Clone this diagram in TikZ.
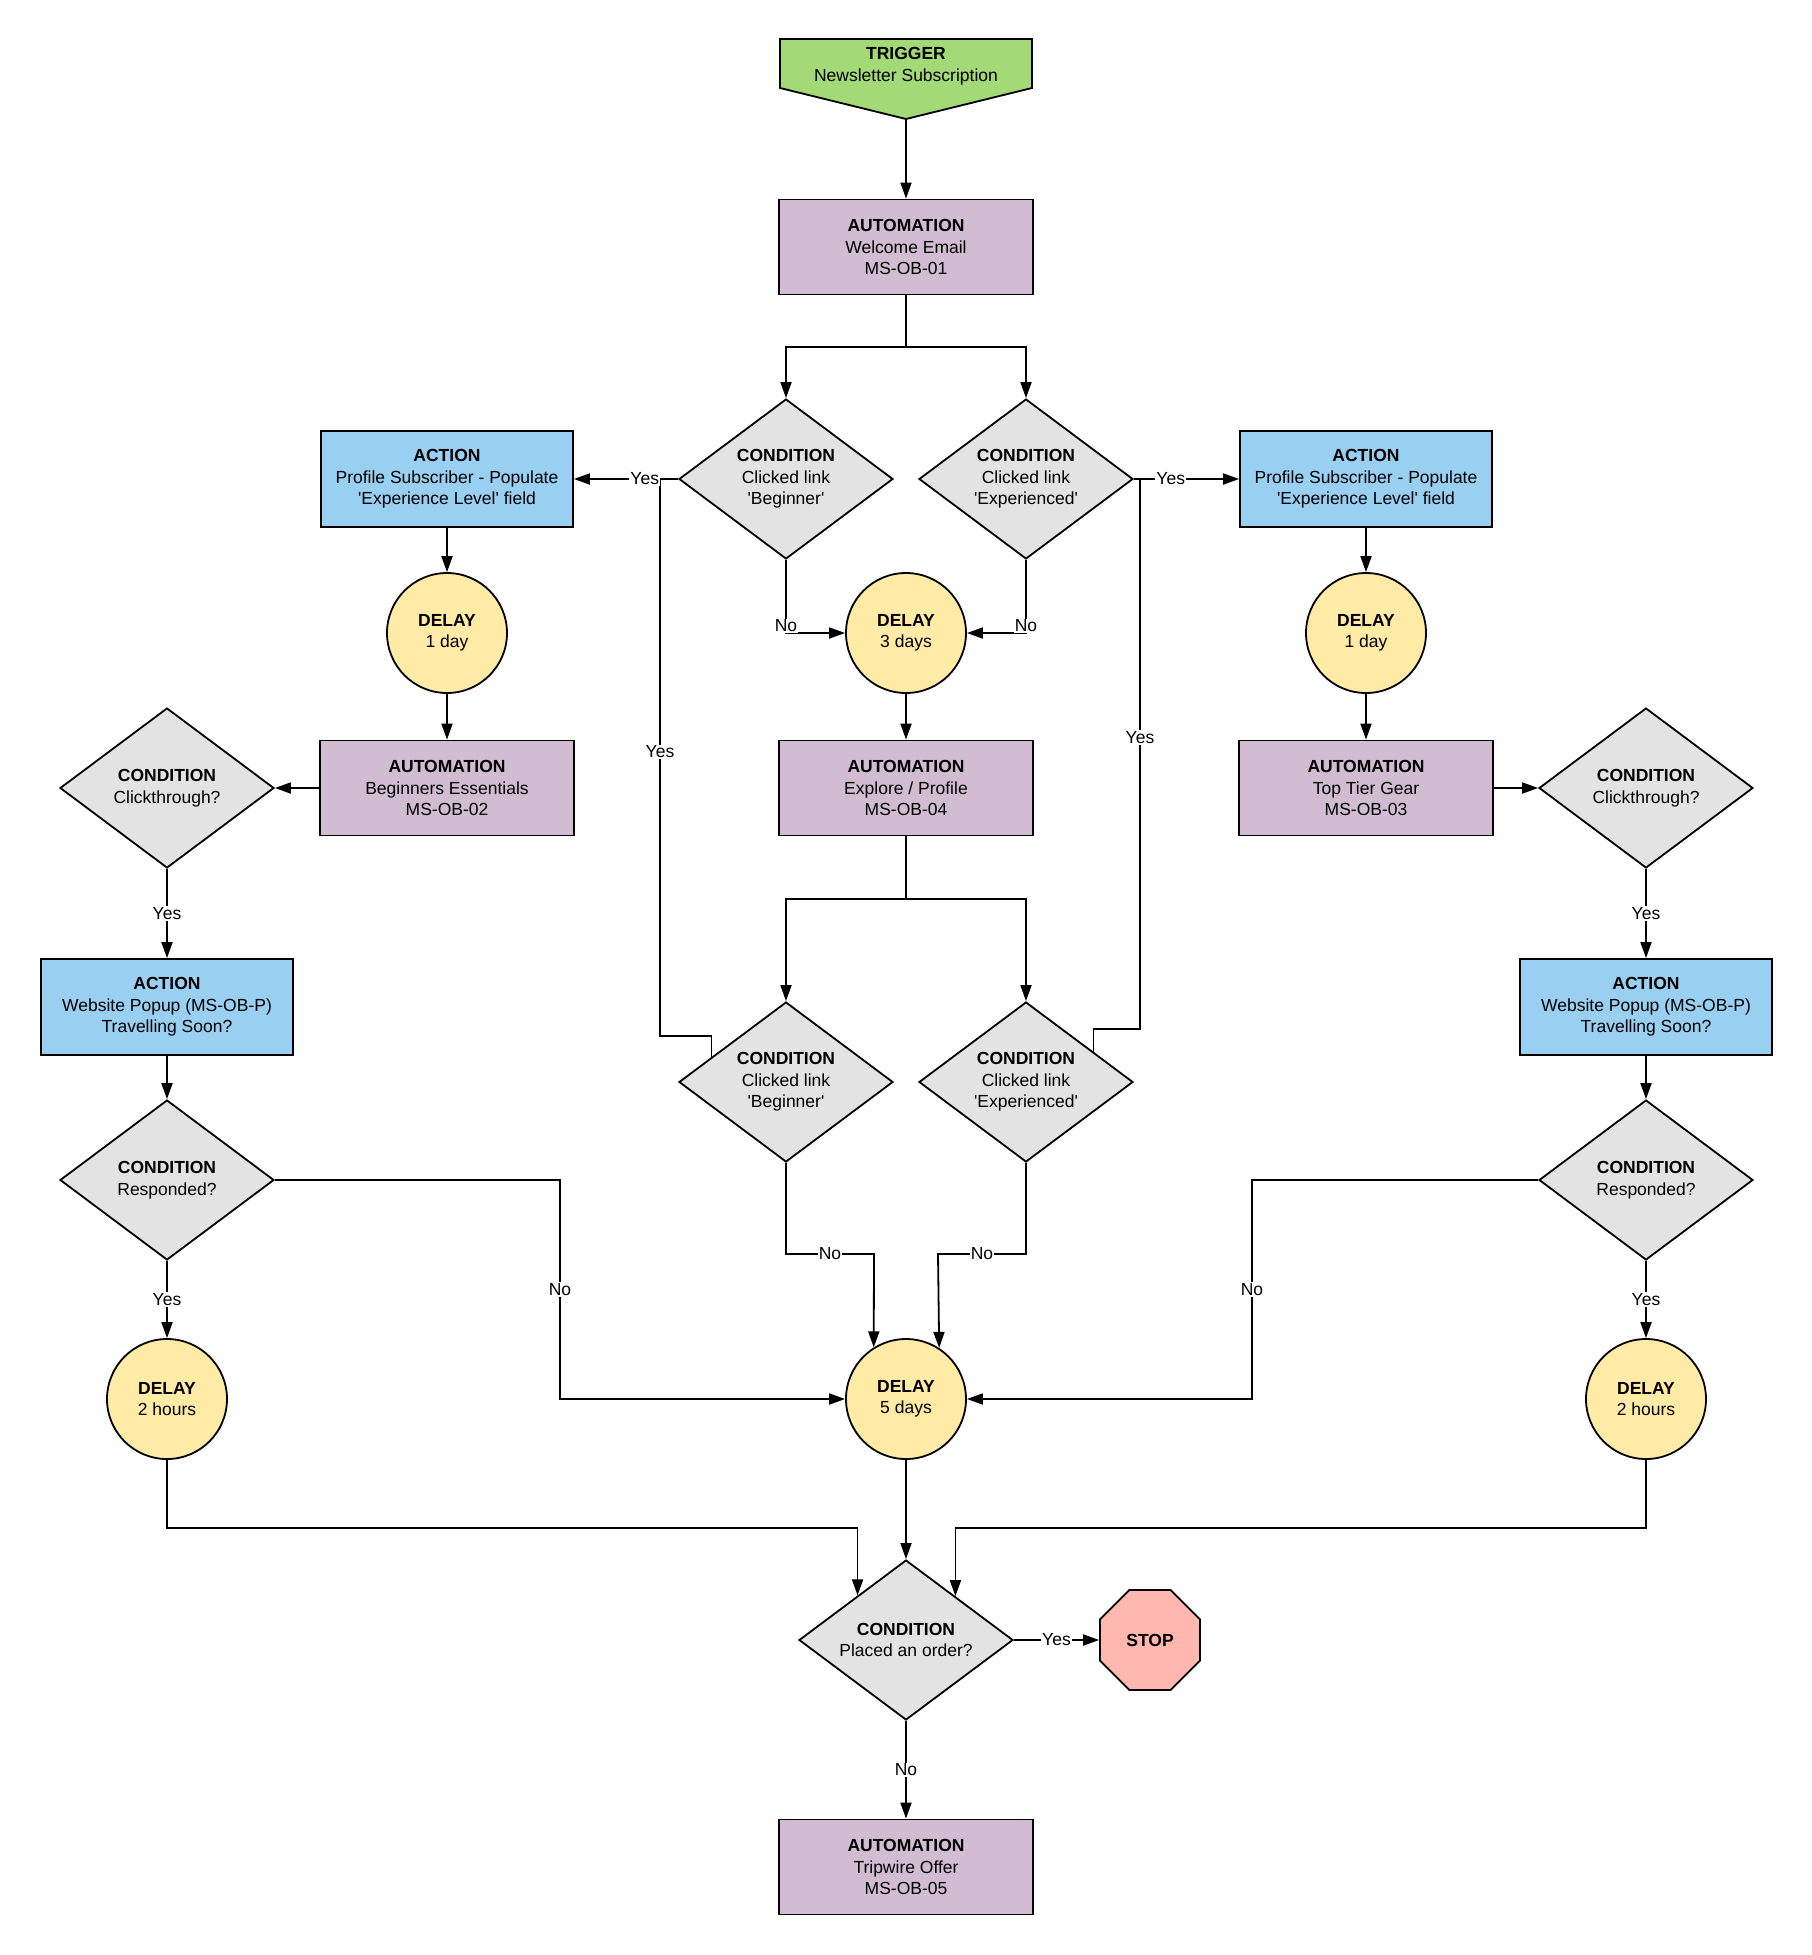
\documentclass[tikz,border=0pt]{standalone}
\usepackage{fontspec}
\setmainfont{Liberation Sans}
\usetikzlibrary{shapes.geometric, arrows.meta, calc}
\definecolor{trigc}{HTML}{A3D977}
\definecolor{autoc}{HTML}{D1BCD2}
\definecolor{actc}{HTML}{99D0F2}
\definecolor{condc}{HTML}{E3E3E3}
\definecolor{delayc}{HTML}{FFEBA6}
\definecolor{stopc}{HTML}{FFB7AE}
\newcommand{\sq}{\textquotesingle}
\begin{document}
\begin{tikzpicture}[x=1pt,y=-1pt,
  every node/.style={font=\fontsize{17.5}{21.5}\selectfont},
  base/.style={draw=black, line width=1.8pt, align=center, inner sep=0pt},
  autobox/.style={base, fill=autoc, minimum width=254pt, minimum height=95pt},
  actbox/.style={base, fill=actc, minimum width=252pt, minimum height=96pt},
  cond/.style={base, diamond, aspect=1.3375, fill=condc, minimum width=214pt, minimum height=160pt},
  delaynode/.style={base, circle, fill=delayc, minimum size=120pt},
  stopnode/.style={base, regular polygon, regular polygon sides=8, fill=stopc, minimum size=108.2pt},
  conn/.style={line width=1.8pt, -{Triangle[length=16pt,width=11pt]}},
  plain/.style={line width=1.8pt},
  lbl/.style={fill=white, inner sep=1pt}
]
\useasboundingbox (0,0) rectangle (1812,1955);

% trigger
\filldraw[fill=trigc, draw=black, line width=1.8pt, line join=miter]
  (780,39) -- (1032,39) -- (1032,88) -- (906,119) -- (780,88) -- cycle;
\node[align=center] (trigger) at (906,66) {\textbf{TRIGGER}\\Newsletter Subscription};
\coordinate (trigtip) at (906,119);

% nodes
\node[autobox] (welcome) at (906,247) {\textbf{AUTOMATION}\\Welcome Email\\MS-OB-01};
\node[cond] (cb1) at (786,479) {\textbf{CONDITION}\\Clicked link\\\sq Beginner\sq};
\node[cond] (ce1) at (1026,479) {\textbf{CONDITION}\\Clicked link\\\sq Experienced\sq};
\node[actbox] (actL) at (447,479) {\textbf{ACTION}\\Profile Subscriber - Populate\\\sq Experience Level\sq{} field};
\node[actbox] (actR) at (1366,479) {\textbf{ACTION}\\Profile Subscriber - Populate\\\sq Experience Level\sq{} field};
\node[delaynode] (d1L) at (447,633) {\textbf{DELAY}\\1 day};
\node[delaynode] (d3) at (906,633) {\textbf{DELAY}\\3 days};
\node[delaynode] (d1R) at (1366,633) {\textbf{DELAY}\\1 day};
\node[autobox] (autoB) at (447,788) {\textbf{AUTOMATION}\\Beginners Essentials\\MS-OB-02};
\node[autobox] (autoE) at (906,788) {\textbf{AUTOMATION}\\Explore / Profile\\MS-OB-04};
\node[autobox] (autoT) at (1366,788) {\textbf{AUTOMATION}\\Top Tier Gear\\MS-OB-03};
\node[cond] (ccL) at (167,788) {\textbf{CONDITION}\\Clickthrough?};
\node[cond] (ccR) at (1646,788) {\textbf{CONDITION}\\Clickthrough?};
\node[actbox] (actPL) at (167,1007) {\textbf{ACTION}\\Website Popup (MS-OB-P)\\Travelling Soon?};
\node[actbox] (actPR) at (1646,1007) {\textbf{ACTION}\\Website Popup (MS-OB-P)\\Travelling Soon?};
\node[cond] (cb2) at (786,1082) {\textbf{CONDITION}\\Clicked link\\\sq Beginner\sq};
\node[cond] (ce2) at (1026,1082) {\textbf{CONDITION}\\Clicked link\\\sq Experienced\sq};
\node[cond] (crL) at (167,1180) {\textbf{CONDITION}\\Responded?};
\node[cond] (crR) at (1646,1180) {\textbf{CONDITION}\\Responded?};
\node[delaynode] (d2L) at (167,1399) {\textbf{DELAY}\\2 hours};
\node[delaynode] (d5) at (906,1399) {\textbf{DELAY}\\5 days};
\node[delaynode] (d2R) at (1646,1399) {\textbf{DELAY}\\2 hours};
\node[cond] (po) at (906,1640) {\textbf{CONDITION}\\Placed an order?};
\node[stopnode] (stop) at (1150,1640) {\textbf{STOP}};
\node[autobox] (trip) at (906,1867) {\textbf{AUTOMATION}\\Tripwire Offer\\MS-OB-05};

% helper coordinates
\coordinate (split1) at (906,347);
\coordinate (split2) at (906,899);
\coordinate (cb2p) at ($(cb2.north)!0.69!(cb2.west)$);
\coordinate (ce2p) at ($(ce2.north)!0.626!(ce2.east)$);
\coordinate (poL) at ($(po.north)!0.449!(po.west)$);
\coordinate (poR) at ($(po.north)!0.458!(po.east)$);
\coordinate (yl) at (660,479);
\coordinate (yr) at (1140,479);

% connectors top
\draw[conn] (trigtip) -- (welcome.north);
\draw[plain] (welcome.south) -- (split1);
\draw[conn] (split1) -| (cb1.north);
\draw[conn] (split1) -| (ce1.north);

% long yes connectors from lower condition diamonds
\draw[plain] (cb2p) -- (cb2p |- 0,1036) -- (660,1036) -- node[lbl, pos=0.51] {Yes} (yl);
\draw[plain] (ce2p) -- (ce2p |- 0,1029) -- (1140,1029) -- node[lbl, pos=0.53] {Yes} (yr);

\draw[conn] (cb1.west) -- node[lbl, pos=0.32] {Yes} (actL.east);
\draw[conn] (ce1.east) -- node[lbl, pos=0.35] {Yes} (actR.west);
\draw[conn] (cb1.south) |- node[lbl, pos=0.5, yshift=7pt] {No} (d3.west);
\draw[conn] (ce1.south) |- node[lbl, pos=0.5, yshift=7pt] {No} (d3.east);

% left column
\draw[conn] (actL.south) -- (d1L.north);
\draw[conn] (d1L.south) -- (autoB.north);
\draw[conn] (autoB.west) -- (ccL.east);
\draw[conn] (ccL.south) -- node[lbl] {Yes} (actPL.north);
\draw[conn] (actPL.south) -- (crL.north);
\draw[conn] (crL.south) -- node[lbl] {Yes} (d2L.north);
\draw[conn] (crL.east) -- (560,1180) -- node[lbl] {No} (560,1399) -- (d5.west);

% right column
\draw[conn] (actR.south) -- (d1R.north);
\draw[conn] (d1R.south) -- (autoT.north);
\draw[conn] (autoT.east) -- (ccR.west);
\draw[conn] (ccR.south) -- node[lbl] {Yes} (actPR.north);
\draw[conn] (actPR.south) -- (crR.north);
\draw[conn] (crR.south) -- node[lbl] {Yes} (d2R.north);
\draw[conn] (crR.west) -- (1252,1180) -- node[lbl] {No} (1252,1399) -- (d5.east);

% middle
\draw[conn] (d3.south) -- (autoE.north);
\draw[plain] (autoE.south) -- (split2);
\draw[conn] (split2) -| (cb2.north);
\draw[conn] (split2) -| (ce2.north);
\draw[conn] (cb2.south) -- (786,1254) -- node[lbl] {No} (874,1254) -- (d5.122.2);
\draw[conn] (ce2.south) -- (1026,1254) -- node[lbl] {No} (938,1254) -- (d5.57.8);

% bottom
\draw[conn] (d2L.south) -- (d2L.south |- 0,1528) -| (poL);
\draw[conn] (d2R.south) -- (d2R.south |- 0,1528) -| (poR);
\draw[conn] (d5.south) -- (po.north);
\draw[conn] (po.east) -- node[lbl] {Yes} (stop.west);
\draw[conn] (po.south) -- node[lbl] {No} (trip.north);
\end{tikzpicture}
\end{document}
